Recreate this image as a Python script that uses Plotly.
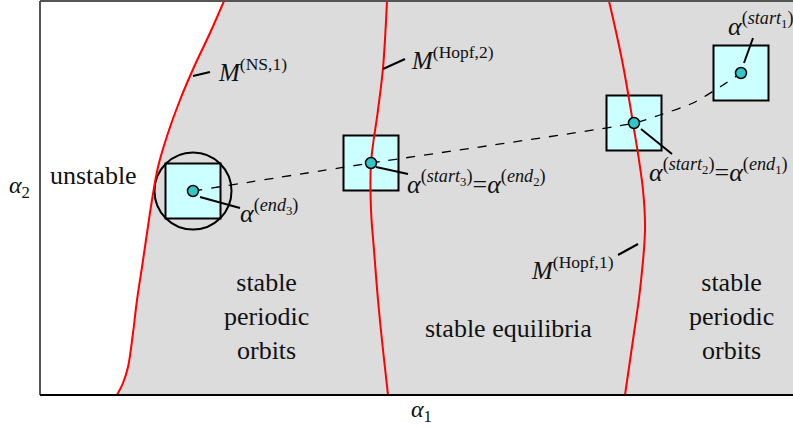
import plotly.graph_objects as go

# ---- data (schematic coordinates, pixel-like units; y grows downward) ----
ns1_x = [224, 210, 194, 180, 168, 158, 152, 147, 142, 137, 133, 128, 123, 117]
ns1_y = [1, 33, 67, 100, 133, 167, 200, 233, 267, 300, 333, 367, 383, 395]

hopf2_x = [387, 383, 378, 371, 371, 374, 378, 383, 388]
hopf2_y = [1, 68, 110, 163, 210, 250, 300, 350, 395]

hopf1_x = [609, 622, 633, 643, 645, 640, 633, 625]
hopf1_y = [1, 60, 123, 190, 230, 290, 340, 395]

path_x = [193, 371, 634, 660, 693, 720, 741]
path_y = [191, 163, 123, 115, 103, 87, 73]

point_x = [741, 634, 371, 193]
point_y = [73, 123, 163, 191]

region_labels = ["unstable", "stable<br>periodic<br>orbits", "stable equilibria", "stable<br>periodic<br>orbits"]
region_x = [93, 266, 508, 731]
region_y = [175, 316, 328, 316]

X0, X1, Y0, Y1 = 40, 793, 1, 395
FONT = "Liberation Serif"
BOX = 55

fig = go.Figure()

fig.add_trace(go.Scatter(
    x=ns1_x + [X1, X1], y=ns1_y + [Y1, Y0], fill="toself", fillcolor="#dcdcdc",
    line=dict(width=0, shape="spline"), mode="lines", hoverinfo="skip", showlegend=False))

fig.add_trace(go.Scatter(x=point_x, y=point_y, mode="markers", hoverinfo="skip", showlegend=False,
                         marker=dict(symbol="square", size=BOX, color="#ccffff", line=dict(color="black", width=2))))
fig.add_trace(go.Scatter(x=point_x[3:], y=point_y[3:], mode="markers", hoverinfo="skip", showlegend=False,
                         marker=dict(symbol="circle-open", size=77, color="black", line=dict(color="black", width=2))))

for cx, cy in [(ns1_x, ns1_y), (hopf2_x, hopf2_y), (hopf1_x, hopf1_y)]:
    fig.add_trace(go.Scatter(x=cx, y=cy, mode="lines", line=dict(color="#ff0000", width=2, shape="spline", smoothing=1.0),
                             hoverinfo="skip", showlegend=False))

fig.add_trace(go.Scatter(x=path_x, y=path_y, mode="lines",
                         line=dict(color="black", width=1.3, dash="dash", shape="spline", smoothing=0.6),
                         hoverinfo="skip", showlegend=False))
fig.add_trace(go.Scatter(x=point_x, y=point_y, mode="markers",
                         marker=dict(size=11, color="#33c6c6", line=dict(color="black", width=1.5)),
                         hoverinfo="skip", showlegend=False))

shapes = []
leaders = [((193, 76), (210, 72)), ((383, 69), (405, 59)), ((744, 63), (753, 38)),
           ((641, 129), (672, 154)), ((376, 167), (408, 174)), ((200, 197), (240, 208)),
           ((618, 255), (638, 244))]
for (a, b) in leaders:
    shapes.append(dict(type="line", xref="x", yref="y", x0=a[0], y0=a[1], x1=b[0], y1=b[1],
                       line=dict(color="black", width=2)))

shapes += [
    dict(type="line", xref="paper", yref="paper", x0=0, x1=1, y0=1, y1=1, line=dict(color="#555555", width=2)),
    dict(type="line", xref="paper", yref="paper", x0=0, x1=0, y0=0, y1=1, line=dict(color="#555555", width=2)),
    dict(type="line", xref="paper", yref="paper", x0=0, x1=1, y0=0, y1=0, line=dict(color="black", width=2)),
]

ann = []
for t, x, y in zip(region_labels, region_x, region_y):
    ann.append(dict(x=x, y=y, xref="x", yref="y", text=t, showarrow=False, xanchor="center", yanchor="middle",
                    font=dict(family=FONT, size=26, color="#111111")))

math = [
    ("<i>M</i><sup>(NS,1)</sup>", 216, 70, 25),
    ("<i>M</i><sup>(Hopf,2)</sup>", 409, 58, 25),
    ("<i>M</i><sup>(Hopf,1)</sup>", 529, 268, 25),
    ("<i>α</i><sup>(<i>start</i><sub>1</sub>)</sup>", 726, 24, 26),
    ("<i>α</i><sup>(<i>start</i><sub>2</sub>)</sup>=<i>α</i><sup>(<i>end</i><sub>1</sub>)</sup>", 647, 170, 26),
    ("<i>α</i><sup>(<i>start</i><sub>3</sub>)</sup>=<i>α</i><sup>(<i>end</i><sub>2</sub>)</sup>", 405, 182, 26),
    ("<i>α</i><sup>(<i>end</i><sub>3</sub>)</sup>", 238, 211, 26),
]
for t, x, y, s in math:
    ann.append(dict(x=x, y=y, xref="x", yref="y", text=t, showarrow=False, xanchor="left", yanchor="middle",
                    font=dict(family=FONT, size=s, color="#111111")))

ann.append(dict(x=(421 - X0) / (X1 - X0), y=(Y1 - 411) / (Y1 - Y0), xref="paper", yref="paper",
                text="<i>α</i><sub>1</sub>", showarrow=False,
                xanchor="center", yanchor="middle", font=dict(family=FONT, size=24, color="#111111")))
ann.append(dict(x=(19 - X0) / (X1 - X0), y=(Y1 - 187) / (Y1 - Y0), xref="paper", yref="paper",
                text="<i>α</i><sub>2</sub>", showarrow=False,
                xanchor="center", yanchor="middle", font=dict(family=FONT, size=24, color="#111111")))

fig.update_layout(
    width=793, height=428, margin=dict(l=40, r=0, t=1, b=33),
    paper_bgcolor="white", plot_bgcolor="white", font=dict(family=FONT),
    xaxis=dict(range=[X0, X1], showgrid=False, zeroline=False, showticklabels=False, ticks="", fixedrange=True),
    yaxis=dict(range=[Y1, Y0], showgrid=False, zeroline=False, showticklabels=False, ticks="", fixedrange=True),
    shapes=shapes, annotations=ann, showlegend=False,
)
fig.write_html("out.html")
